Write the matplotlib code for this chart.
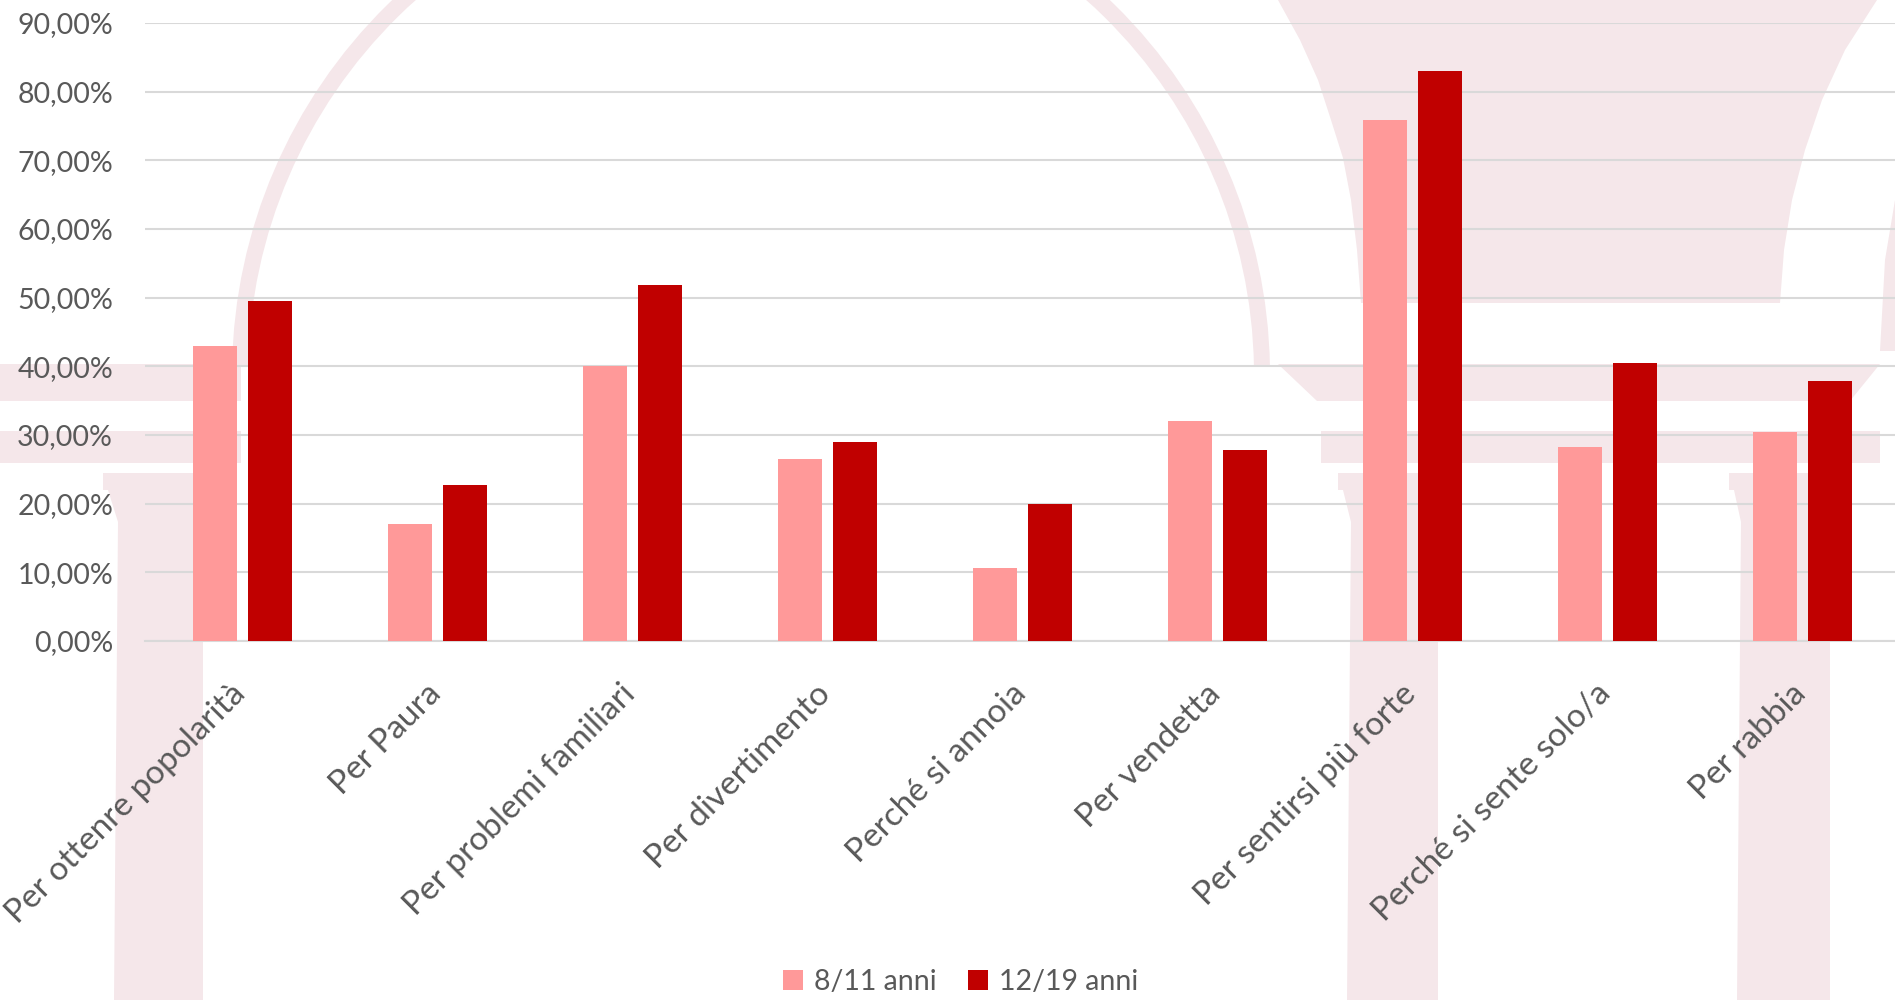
import matplotlib
matplotlib.use("Agg")
import matplotlib.pyplot as plt
import matplotlib.transforms as mtransforms
from matplotlib.patches import Wedge, Polygon
import numpy as np

plt.rcParams['font.family'] = ['Lato', 'DejaVu Sans']

categories = ["Per ottenre popolarità", "Per Paura", "Per problemi familiari",
              "Per divertimento", "Perché si annoia", "Per vendetta",
              "Per sentirsi più forte", "Perché si sente solo/a", "Per rabbia"]
series_names = ["8/11 anni", "12/19 anni"]
vals_8_11 = [43.0, 17.1, 40.1, 26.5, 10.7, 32.1, 75.9, 28.3, 30.5]
vals_12_19 = [49.5, 22.75, 51.9, 29.0, 20.0, 27.8, 83.0, 40.5, 37.9]
yticks = [0, 10, 20, 30, 40, 50, 60, 70, 80, 90]
ytick_labels = ["0,00%", "10,00%", "20,00%", "30,00%", "40,00%", "50,00%",
                "60,00%", "70,00%", "80,00%", "90,00%"]

c_light = "#FF9999"
c_dark = "#C00000"
txt = "#595959"
wm = "#F5E7EA"

fig = plt.figure(figsize=(18.95, 10), dpi=100)

# background watermark (decoration, in pixel space)
bg = fig.add_axes([0, 0, 1, 1], zorder=0)
bg.set_xlim(0, 1895)
bg.set_ylim(1000, 0)
bg.axis('off')
bg.add_patch(Wedge((751, 375), 519, 181, 359, width=16, color=wm, lw=0))
bg.add_patch(Polygon([(0, 364), (241, 364), (241, 401), (0, 401)], color=wm, lw=0))
bg.add_patch(Polygon([(0, 431), (241, 431), (241, 463), (0, 463)], color=wm, lw=0))
bg.add_patch(Polygon([(1278, 364), (1880, 364), (1850, 401), (1317, 401)], color=wm, lw=0))
bg.add_patch(Polygon([(1321, 431), (1880, 431), (1880, 463), (1321, 463)], color=wm, lw=0))
funnel = [(1278, 0), (1300, 40), (1318, 80), (1331, 120), (1343, 158), (1351, 200),
          (1357, 250), (1361, 303),
          (1780, 303), (1784, 250), (1792, 200), (1805, 150), (1822, 100),
          (1845, 50), (1877, 0)]
bg.add_patch(Polygon(funnel, color=wm, lw=0))
bg.add_patch(Polygon([(1895, 200), (1885, 260), (1880, 351), (1895, 351)], color=wm, lw=0))
for (cl, cr, sl, sr) in [(103, 215, 118, 203), (1338, 1451, 1351, 1438), (1729, 1841, 1741, 1830)]:
    bg.add_patch(Polygon([(cl, 473), (cr, 473), (cr, 490), (cl, 490)], color=wm, lw=0))
    bg.add_patch(Polygon([(cl + 5, 490), (cr - 5, 490), (sr, 522), (sr, 1000),
                          (sl - 4, 1000), (sl, 522)], color=wm, lw=0))

# main chart
ax = fig.add_axes([145 / 1895, 0.359, 1 - 145 / 1895, 0.618], zorder=1)
ax.set_facecolor('none')
x = np.arange(len(categories))
w = 0.225
off = 0.142
ax.bar(x - off, vals_8_11, width=w, color=c_light, label=series_names[0], zorder=3)
ax.bar(x + off, vals_12_19, width=w, color=c_dark, label=series_names[1], zorder=3)

ax.set_xlim(-0.5, 8.474)
ax.set_ylim(0, 90)
ax.set_yticks(yticks)
ax.set_yticklabels(ytick_labels)
ax.yaxis.grid(True, color="#D9D9D9", lw=1.5, zorder=0)
ax.set_axisbelow(True)
for s in ['top', 'right', 'left']:
    ax.spines[s].set_visible(False)
ax.spines['bottom'].set_color("#D9D9D9")
ax.spines['bottom'].set_linewidth(1.5)
ax.tick_params(axis='y', length=0, pad=23, labelsize=20.5, labelcolor=txt)
ax.tick_params(axis='x', length=0, pad=27, labelsize=24, labelcolor=txt)
ax.set_xticks(x)
ax.set_xticklabels(categories, rotation=45, ha='right', va='top')
shift = mtransforms.ScaledTranslation(9 / 100, 0, fig.dpi_scale_trans)
for lab in ax.get_xticklabels():
    lab.set_transform(lab.get_transform() + shift)

leg = fig.legend(loc='center', bbox_to_anchor=(0.507, 0.018), ncol=2, frameon=False,
                 fontsize=20.5, handlelength=0.7, handleheight=0.7,
                 handletextpad=0.4, columnspacing=1.1, labelcolor=txt)

fig.savefig("out.png", dpi=100)
